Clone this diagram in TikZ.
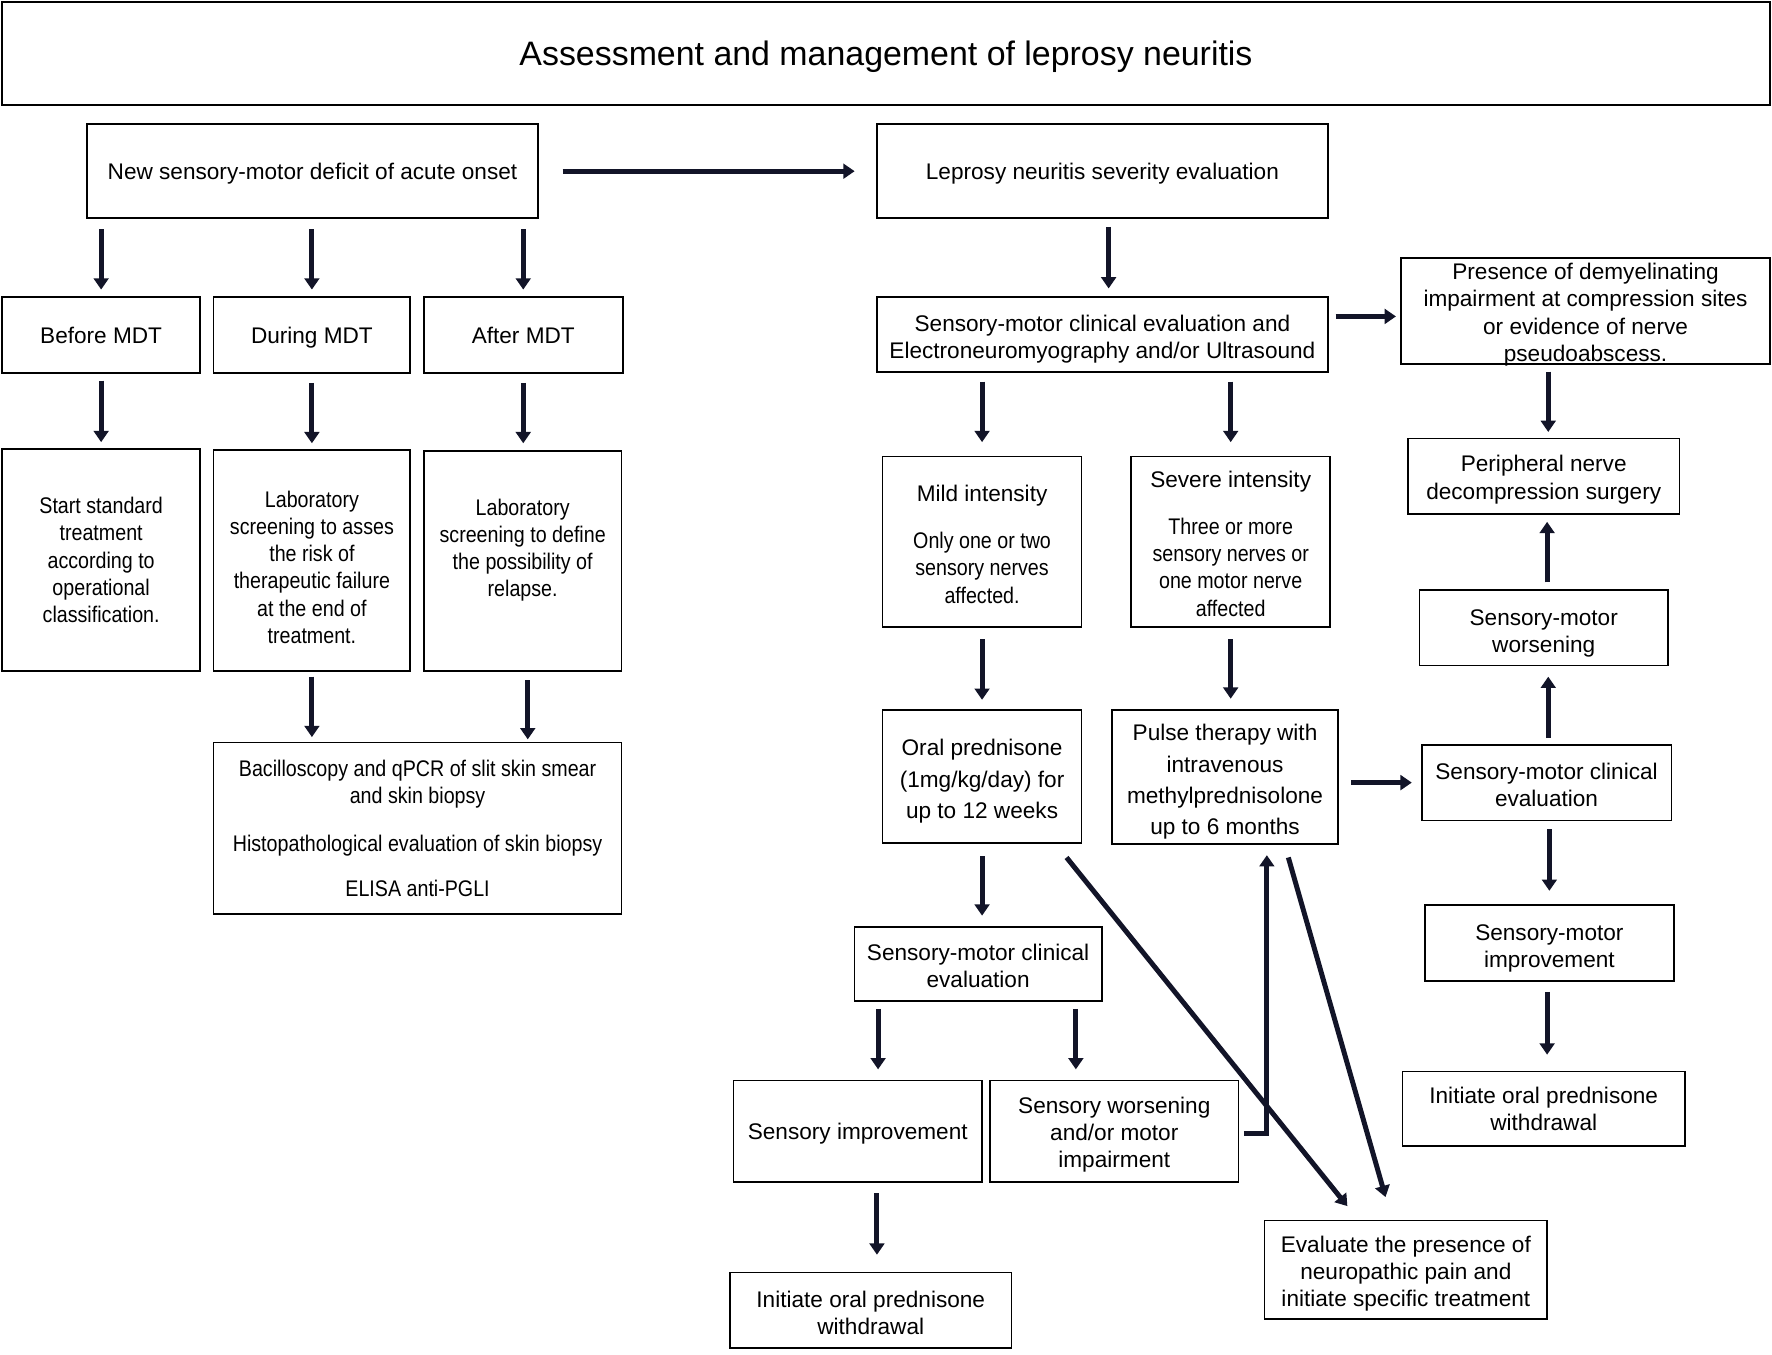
\documentclass[tikz,border=0pt]{standalone}
\usepackage{fontspec}
\setmainfont{Liberation Sans}
\newfontfamily\narrowfont[FakeStretch=0.87]{Liberation Sans}
\usetikzlibrary{arrows.meta,calc}
\definecolor{arrc}{RGB}{18,20,40}
\newcommand{\tallstrut}[1]{\rule{0pt}{#1}}
\begin{document}
\begin{tikzpicture}[x=0.5pt,y=-0.5pt,
  box/.style={draw=black, line width=0.75pt, inner sep=2pt, align=center, font=\fontsize{10}{12}\selectfont},
  narrowbox/.style={box, font=\narrowfont\fontsize{10}{12}\selectfont},
  oneline/.style={text height=7.2pt, text depth=0pt},
  sz/.style 2 args={minimum width=#1*0.5pt, minimum height=#2*0.5pt},
  arr/.style 2 args={draw=arrc, line width=2.2pt, -{Triangle[length=5pt,width=6.5pt]},
    shorten <=#1*0.5pt, shorten >=#2*0.5pt}
]
\useasboundingbox[fill=white] (0,0) rectangle (1568,1199);

% title
\node[box, sz={1564}{91}, font=\fontsize{15}{18}\selectfont, text height=10.7pt, text depth=0pt] (title) at (784,47.5) {Assessment and management of leprosy neuritis};

% left branch
\node[box, oneline, sz={399}{83}] (new) at (276.5,151.5) {New sensory-motor deficit of acute onset};
\node[box, oneline, sz={175}{67}] (before) at (89.5,296.5) {Before MDT};
\node[box, oneline, sz={174}{67}] (during) at (276,296.5) {During MDT};
\node[box, oneline, sz={176}{67}] (after) at (463,296.5) {After MDT};
\node[narrowbox, sz={175}{197}] (start) at (89.5,495.5) {Start standard\\treatment\\according to\\operational\\classification.};
\node[narrowbox, sz={174}{196}] (labrisk) at (276,496) {\tallstrut{13.2pt}Laboratory\\screening to asses\\the risk of\\therapeutic failure\\at the end of\\treatment.};
\node[narrowbox, sz={175}{195}] (labrel) at (462.5,496.5) {Laboratory\\screening to define\\the possibility of\\relapse.\\\mbox{}};
\node[narrowbox, sz={361}{152}] (bacillo) at (369.5,733) {Bacilloscopy and qPCR of slit skin smear\\and skin biopsy\\[9pt]Histopathological evaluation of skin biopsy\\[8pt]ELISA anti-PGLI};

% right branch
\node[box, oneline, sz={399}{83}] (lep) at (975.5,151.5) {Leprosy neuritis severity evaluation};
\node[box, sz={399}{66}] (smce) at (975.5,296) {\tallstrut{11.7pt}Sensory-motor clinical evaluation and\\Electroneuromyography and/or Ultrasound};
\node[box, sz={326}{94}, inner ysep=-1pt] (presence) at (1403,275) {\tallstrut{10.7pt}Presence of demyelinating\\impairment at compression sites\\or evidence of nerve\\pseudoabscess.};
\node[box, sz={176}{151}] (mild) at (869,479.5) {\tallstrut{9.2pt}Mild intensity\\[9pt]{\narrowfont Only one or two}\\{\narrowfont sensory nerves}\\{\narrowfont affected.}};
\node[box, sz={176}{151}] (severe) at (1089,479.5) {\tallstrut{8.7pt}Severe intensity\\[9pt]{\narrowfont Three or more}\\{\narrowfont sensory nerves or}\\{\narrowfont one motor nerve}\\{\narrowfont affected}};
\node[box, sz={240}{67}] (periph) at (1366,421.5) {\tallstrut{10.2pt}Peripheral nerve\\decompression surgery};
\node[box, sz={220}{67}] (worsen) at (1366,555.5) {\tallstrut{12.2pt}Sensory-motor\\worsening};
\node[box, sz={176}{118}, font=\fontsize{10}{14}\selectfont] (oral) at (869,687) {\tallstrut{11.7pt}Oral prednisone\\(1mg/kg/day) for\\up to 12 weeks};
\node[box, sz={200}{117}, font=\fontsize{10}{13.9}\selectfont] (pulse) at (1084,687.5) {\tallstrut{11.7pt}Pulse therapy with\\intravenous\\methylprednisolone\\up to 6 months};
\node[box, sz={221}{67}] (smcer) at (1368.5,692.5) {\tallstrut{9.2pt}Sensory-motor clinical\\evaluation};
\node[box, sz={220}{67}] (improv) at (1371,834.5) {\tallstrut{11.7pt}Sensory-motor\\improvement};
\node[box, sz={250}{66}] (initr) at (1366,981) {Initiate oral prednisone\\withdrawal};
\node[box, sz={219}{66}] (smcem) at (865.5,853) {\tallstrut{8.7pt}Sensory-motor clinical\\evaluation};
\node[box, oneline, sz={220}{90}] (simprov) at (759,1001) {Sensory improvement};
\node[box, sz={220}{90}] (sworsen) at (986,1001) {\tallstrut{10.2pt}Sensory worsening\\and/or motor\\impairment};
\node[box, sz={250}{87}] (evalp) at (1244,1123.5) {\tallstrut{10.7pt}Evaluate the presence of\\neuropathic pain and\\initiate specific treatment};
\node[box, sz={249}{67}] (initb) at (770.5,1159.5) {\tallstrut{9.2pt}Initiate oral prednisone\\withdrawal};

% connectors, left
\draw[arr={9}{6}] (new.south -| before.north) -- (before.north);
\draw[arr={9}{6}] (new.south -| during.north) -- (during.north);
\draw[arr={9}{6}] (new.south -| after.north) -- (after.north);
\draw[arr={6}{5}] (before.south) -- (before.south |- start.north);
\draw[arr={8}{5}] (during.south) -- (during.south |- labrisk.north);
\draw[arr={8}{6}] (after.south) -- (after.south |- labrel.north);
\draw[arr={4}{4}] (labrisk.south) -- (labrisk.south |- bacillo.north);
\draw[arr={7}{2}] ($(labrel.south)+(4.5,0)$) -- ($(labrel.south |- bacillo.north)+(4.5,0)$);
\draw[arr={21}{19}] (new.east) -- (new.east -| lep.west);

% connectors, right
\draw[arr={7}{7}] ($(lep.south)+(5.5,0)$) -- ($(lep.south |- smce.north)+(5.5,0)$);
\draw[arr={6}{4}] ($(smce.east)+(0,-16)$) -- ($(smce.east -| presence.west)+(0,-16)$);
\draw[arr={8}{12}] (smce.south -| mild.north) -- (mild.north);
\draw[arr={8}{12}] (smce.south -| severe.north) -- (severe.north);
\draw[arr={6}{5}] ($(presence.south -| periph.north)+(4,0)$) -- ($(periph.north)+(4,0)$);
\draw[arr={6}{6}] ($(worsen.north)+(3,0)$) -- ($(worsen.north |- periph.south)+(3,0)$);
\draw[arr={5}{9}] ($(smcer.north)+(1.5,0)$) -- ($(smcer.north |- worsen.south)+(1.5,0)$);
\draw[arr={11}{8}] (pulse.east |- smcer.west) -- (smcer.west);
\draw[arr={7}{12}] ($(smcer.south)+(2.5,0)$) -- ($(smcer.south |- improv.north)+(2.5,0)$);
\draw[arr={9}{14}] ($(improv.south)+(-2,0)$) -- ($(improv.south |- initr.north)+(-2,0)$);
\draw[arr={10}{8}] (mild.south) -- (oral.north);
\draw[arr={10}{9}] (severe.south) -- (severe.south |- pulse.north);
\draw[arr={11}{9}] (oral.south) -- (oral.south |- smcem.north);
\draw[arr={0}{0}] ($(oral.south east)+(-14,12)$) -- ($(evalp.north west)+(74,-12)$);
\draw[arr={0}{0}] ($(pulse.south)+(56,11)$) -- ($(evalp.north)+(-18,-20)$);
\draw[arr={6}{9}] ($(smcem.south)+(-88.5,0)$) -- ($(smcem.south |- simprov.north)+(-88.5,0)$);
\draw[arr={6}{9}] ($(smcem.south)+(86.5,0)$) -- ($(smcem.south |- sworsen.north)+(86.5,0)$);
\draw[arr={9}{15}] ($(simprov.south)+(17,0)$) -- ($(simprov.south |- initb.north)+(17,0)$);
\draw[arr={4}{9}] ($(sworsen.east)+(0,2)$) -| ($(pulse.south)+(37,0)$);
\end{tikzpicture}
\end{document}
